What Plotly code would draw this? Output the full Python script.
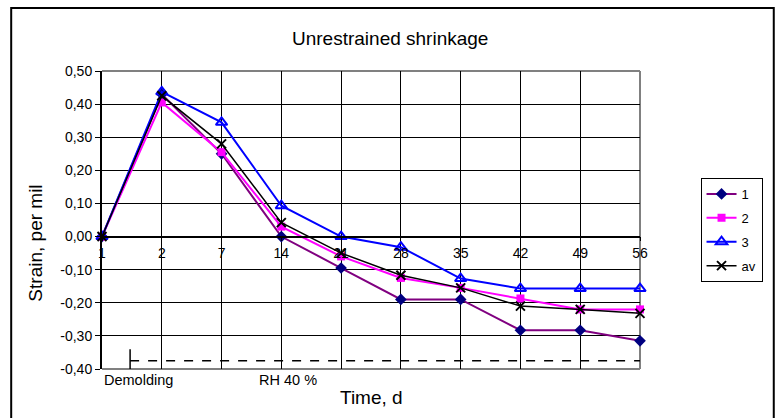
import plotly.graph_objects as go

# Curing time (days) and measured unrestrained shrinkage strain (per mil)
days = ["1", "2", "7", "14", "21", "28", "35", "42", "49", "56"]
specimen_1 = [0.0, 0.43, 0.25, 0.00, -0.095, -0.19, -0.19, -0.283, -0.283, -0.315]
specimen_2 = [0.0, 0.405, 0.255, 0.03, -0.06, -0.125, -0.155, -0.187, -0.22, -0.22]
specimen_3 = [0.0, 0.437, 0.345, 0.093, 0.0, -0.032, -0.127, -0.157, -0.157, -0.157]
average = [0.0, 0.425, 0.28, 0.042, -0.05, -0.117, -0.155, -0.21, -0.22, -0.232]

y_ticks = [0.5, 0.4, 0.3, 0.2, 0.1, 0.0, -0.1, -0.2, -0.3, -0.4]

# Drying period marker (start position on the category scale and strain level)
demolding_pos = 0.47
rh_level = -0.375

FONT = "Liberation Sans, Arial, sans-serif"
x_pos = list(range(len(days)))

fig = go.Figure()

series = [
    ("1", specimen_1, "#800080", dict(symbol="diamond", size=9, color="#000080")),
    ("2", specimen_2, "#FF00FF", dict(symbol="square", size=8, color="#FF00FF")),
    ("3", specimen_3, "#0000FF", dict(symbol="triangle-up-open", size=10, color="#0000FF",
                                     line=dict(width=2, color="#0000FF"))),
    ("av", average, "#000000", dict(symbol="x-thin-open", size=9, color="#000000",
                                    line=dict(width=2, color="#000000"))),
]
for name, vals, lc, mk in series:
    fig.add_trace(go.Scatter(
        x=x_pos, y=vals, name=name, mode="lines+markers",
        line=dict(color=lc, width=2 if name != "av" else 1.5),
        marker=mk, cliponaxis=False, legendgroup=name,
    ))

plot_l, plot_r, plot_t, plot_b = 102, 653, 71, 369
W, H = 775, 418
pw, ph = plot_r - plot_l, plot_b - plot_t


def px(xp):
    return (xp - plot_l) / pw


def py(yp):
    return (plot_b - yp) / ph


shapes = [
    # outer chart frame
    dict(type="rect", xref="paper", yref="paper", x0=px(9), x1=px(790), y0=py(430), y1=py(8),
         line=dict(color="black", width=2), layer="below"),
    # plot area border (top, right, bottom)
    dict(type="line", xref="paper", yref="paper", x0=0, x1=1, y0=1, y1=1,
         line=dict(color="#808080", width=2), layer="between"),
    dict(type="line", xref="paper", yref="paper", x0=1, x1=1, y0=0, y1=1,
         line=dict(color="#808080", width=2), layer="between"),
    dict(type="line", xref="paper", yref="paper", x0=0, x1=1, y0=0, y1=0,
         line=dict(color="#808080", width=2), layer="between"),
    # RH 40 % exposure marker
    dict(type="line", xref="x", yref="y", x0=demolding_pos, x1=x_pos[-1], y0=rh_level, y1=rh_level,
         line=dict(color="black", width=1.5, dash="dash")),
    dict(type="line", xref="x", yref="y", x0=demolding_pos, x1=demolding_pos, y0=-0.34, y1=-0.4,
         line=dict(color="black", width=1.5)),
]

annotations = [
    dict(text="Unrestrained shrinkage", xref="paper", yref="paper", x=px(397), y=py(38),
         showarrow=False, font=dict(family=FONT, size=19, color="black"),
         xanchor="center", yanchor="middle"),
    dict(text="Strain, per mil", xref="paper", yref="paper", x=px(33), y=py(243),
         textangle=-90, showarrow=False, font=dict(family=FONT, size=19, color="black"),
         xanchor="center", yanchor="middle"),
    dict(text="Time, d", xref="paper", yref="paper", x=px(378), y=py(397),
         showarrow=False, font=dict(family=FONT, size=19, color="black"),
         xanchor="center", yanchor="middle"),
    dict(text="Demolding", xref="paper", yref="paper", x=0, y=py(380),
         showarrow=False, font=dict(family=FONT, size=14.5, color="black"),
         xanchor="left", yanchor="middle"),
    dict(text="RH 40 %", xref="paper", yref="paper", x=px(293), y=py(380),
         showarrow=False, font=dict(family=FONT, size=14.5, color="black"),
         xanchor="center", yanchor="middle"),
]

fig.update_layout(
    width=W, height=H,
    margin=dict(l=plot_l, r=W - plot_r, t=plot_t, b=H - plot_b),
    paper_bgcolor="white", plot_bgcolor="white",
    font=dict(family=FONT, color="black"),
    shapes=shapes, annotations=annotations,
    legend=dict(x=px(715), y=py(178), xanchor="left", yanchor="top",
                bordercolor="black", borderwidth=1, bgcolor="white",
                font=dict(family=FONT, size=13, color="black"),
                tracegroupgap=4, itemwidth=30),
    showlegend=True,
)

fig.update_xaxes(
    range=[0, len(days) - 1], tickvals=x_pos, ticktext=days,
    showgrid=True, gridcolor="black", gridwidth=1, zeroline=False,
    showline=True, linecolor="black", linewidth=1.5,
    anchor="free", position=(0 - (-0.4)) / 0.9,
    ticks="outside", ticklen=4, tickcolor="black",
    tickfont=dict(family=FONT, size=14, color="black"),
)
fig.update_yaxes(
    range=[-0.4, 0.5], tickvals=y_ticks,
    ticktext=[f"{v:.2f}".replace(".", ",") for v in y_ticks],
    showgrid=True, gridcolor="black", gridwidth=1, zeroline=False,
    showline=True, linecolor="black", linewidth=2,
    ticks="outside", ticklen=5, tickcolor="black",
    tickfont=dict(family=FONT, size=14, color="black"),
)

fig.write_html("out.html")
